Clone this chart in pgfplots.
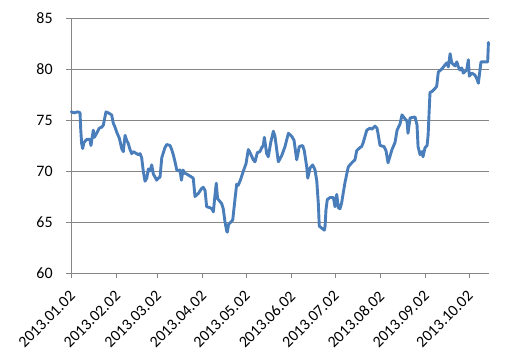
\documentclass[border=0pt]{standalone}
\usepackage{pgfplots}
\pgfplotsset{compat=1.18}
\usepackage{fontspec}
\setmainfont{Carlito}
\definecolor{series}{RGB}{74,126,187}
\definecolor{gridc}{RGB}{134,134,134}
\begin{document}
\begin{tikzpicture}
\begin{axis}[
  width=417.7bp, height=255bp, scale only axis,
  xmin=0, xmax=286.7, ymin=60, ymax=85,
  axis lines*=left,
  axis line style={gridc, line width=0.9bp},
  xtick={0,31,59,90,120,151,181,212,243,273},
  xticklabels={2013.01.02,2013.02.02,2013.03.02,2013.04.02,2013.05.02,2013.06.02,2013.07.02,2013.08.02,2013.09.02,2013.10.02},
  ytick={60,65,70,75,80,85},
  ymajorgrids,
  major grid style={gridc, line width=0.9bp},
  tick align=outside,
  major tick length=5bp,
  tick style={gridc, line width=0.9bp},
  /pgf/number format/assume math mode=true,
  tick label style={font=\fontsize{16}{18}\selectfont, black},
  xticklabel style={xshift=-2.5bp, yshift=-11.5bp, rotate=45, anchor=north east, inner sep=0pt},
  yticklabel style={xshift=-13.5bp, anchor=east, inner sep=0pt},
  clip=false,
]
\addplot[series, line width=2.9bp, line join=round, line cap=round] coordinates {
(0,75.8)(1.85,75.7)(4.6,75.8)(6.0,75.7)(6.5,74.0)(7.1,72.7)(7.8,72.2)(8.7,72.8)(10.6,73.1)(12.8,73.1)
(13.5,72.5)(15.1,74.0)(15.8,73.3)(17.4,73.7)(19.2,74.2)(20.9,74.3)(22.0,74.5)(23.8,75.8)(25.4,75.7)(27.7,75.5)
(28.8,74.7)(30.0,74.3)(31.2,73.8)(33.0,73.2)(34.6,72.2)(35.7,71.9)(36.9,73.5)(38.0,73.0)(39.1,72.7)(40.3,72.1)
(41.5,71.7)(42.6,71.9)(43.7,71.8)(46.0,71.6)(47.2,71.7)(48.3,71.3)(49.4,70.0)(50.6,69.0)(51.8,69.3)(52.9,70.2)
(54.0,70.0)(55.2,70.6)(56.3,69.7)(57.5,69.4)(58.6,69.1)(59.7,69.3)(60.9,69.4)(62.1,71.3)(63.2,71.8)(64.3,72.3)
(65.5,72.6)(67.8,72.5)(68.9,72.1)(70.0,71.6)(71.2,70.9)(72.4,70.1)(73.4,70.0)(74.6,70.1)(75.6,69.1)(76.7,70.1)
(77.7,69.8)(79.2,69.7)(81.5,69.5)(82.6,69.4)(83.7,69.3)(84.9,67.5)(87.2,67.8)(89.5,68.3)(90.6,68.4)(91.8,68.1)
(92.9,66.5)(95.2,66.4)(96.4,66.3)(97.5,66.0)(98.6,67.6)(99.5,68.8)(100.4,67.3)(102.1,67.0)(103.2,66.8)(104.3,66.3)
(105.5,65.0)(106.7,64.1)(107.1,64.0)(108.0,64.8)(108.9,64.9)(110.8,65.2)(112.4,67.3)(113.5,68.7)(114.6,68.6)(116.3,69.2)
(118.1,70.0)(119.9,70.7)(121.5,72.1)(122.7,71.8)(124.9,71.1)(126.1,70.9)(127.7,71.8)(129.5,71.9)(130.7,72.3)(131.8,72.5)
(132.5,73.3)(134.1,71.7)(135.2,71.4)(136.9,72.8)(138.7,73.9)(139.8,73.4)(142.1,70.9)(144.4,71.5)(146.7,72.4)(149.0,73.7)
(151.3,73.4)(152.9,73.0)(154.7,71.1)(156.5,72.4)(158.8,72.5)(159.9,72.0)(161.6,70.4)(162.3,69.3)(163.9,70.3)(165.7,70.6)
(167.3,70.1)(168.5,69.0)(169.6,66.7)(170.2,64.6)(171.9,64.4)(173.7,64.2)(174.2,64.6)(174.8,66.2)(175.7,67.2)(177.6,67.4)
(179.9,67.4)(181.0,66.5)(182.2,67.7)(183.3,66.4)(184.4,66.3)(185.6,66.9)(186.7,67.9)(187.9,68.9)(190.1,70.4)(192.5,70.8)
(194.7,71.1)(195.9,72.0)(198.2,72.3)(199.3,72.4)(200.4,72.8)(202.8,74.0)(205.0,74.2)(206.4,74.1)(208.5,74.4)(209.8,74.2)
(210.5,73.7)(211.9,72.5)(214.6,72.4)(216.0,72.0)(217.4,70.8)(220.1,72.1)(222.2,72.8)(223.6,74.0)(225.6,74.6)(227.0,75.5)
(229.1,75.1)(230.4,74.9)(231.1,73.7)(232.5,75.2)(235.9,75.3)(237.3,74.5)(238.0,72.4)(239.4,71.6)(240.7,71.9)(241.4,71.4)
(242.8,72.3)(244.2,72.5)(244.9,73.5)(246.2,77.7)(247.6,77.8)(249.7,78.1)(250.8,78.3)(251.9,79.7)(254.3,80.0)(256.5,80.4)
(257.7,80.6)(258.8,80.2)(260.0,81.5)(261.1,80.6)(263.4,80.3)(264.6,80.7)(265.7,80.2)(266.8,79.9)(268.0,80.1)(269.1,79.6)
(271.4,79.9)(272.5,80.9)(273.2,79.3)(274.9,79.6)(277.1,79.4)(278.5,79.0)(279.4,78.6)(281.2,80.7)(284.0,80.7)(285.8,80.7)
(286.3,82.6)
};
\path (rel axis cs:0,0) ++(-71.3bp,-89bp) rectangle ++(521bp,362bp);
\end{axis}
\end{tikzpicture}
\end{document}
